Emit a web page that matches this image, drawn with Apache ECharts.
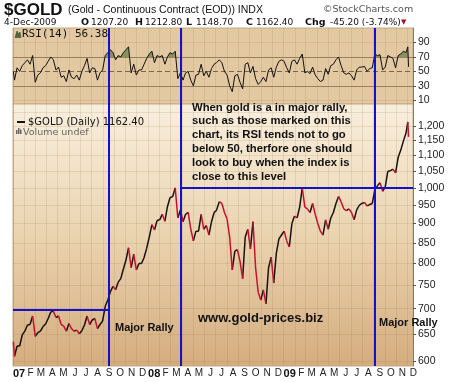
<!DOCTYPE html>
<html><head><meta charset="utf-8">
<script src="https://cdn.jsdelivr.net/npm/echarts@6/dist/echarts.min.js"></script>
<style>html,body{margin:0;padding:0;background:#fff}#c{width:450px;height:382px}</style>
</head><body><div id="c"></div>
<script>
// ---- data (weekly samples) ----
const dates = [
'2007-01-02','2007-01-05','2007-01-12','2007-01-19','2007-01-26','2007-02-02','2007-02-09','2007-02-16','2007-02-23',
'2007-03-02','2007-03-09','2007-03-16','2007-03-23','2007-03-30','2007-04-06','2007-04-13','2007-04-20','2007-04-27',
'2007-05-04','2007-05-11','2007-05-18','2007-05-25','2007-06-01','2007-06-08','2007-06-15','2007-06-22','2007-06-29',
'2007-07-06','2007-07-13','2007-07-20','2007-07-27','2007-08-03','2007-08-10','2007-08-17','2007-08-24','2007-08-31',
'2007-09-07','2007-09-14','2007-09-21','2007-09-28','2007-10-05','2007-10-12','2007-10-19','2007-10-26',
'2007-11-02','2007-11-09','2007-11-16','2007-11-23','2007-11-30','2007-12-07','2007-12-14','2007-12-21','2007-12-28',
'2008-01-04','2008-01-11','2008-01-18','2008-01-25','2008-02-01','2008-02-08','2008-02-15','2008-02-22','2008-02-29',
'2008-03-07','2008-03-14','2008-03-21','2008-03-28','2008-04-04','2008-04-11','2008-04-18','2008-04-25',
'2008-05-02','2008-05-09','2008-05-16','2008-05-23','2008-05-30','2008-06-06','2008-06-13','2008-06-20','2008-06-27',
'2008-07-03','2008-07-11','2008-07-18','2008-07-25','2008-08-01','2008-08-08','2008-08-15','2008-08-22','2008-08-29',
'2008-09-05','2008-09-12','2008-09-19','2008-09-26','2008-10-03','2008-10-10','2008-10-17','2008-10-24','2008-10-31',
'2008-11-07','2008-11-14','2008-11-21','2008-11-28','2008-12-05','2008-12-12','2008-12-19','2008-12-26',
'2009-01-02','2009-01-09','2009-01-16','2009-01-23','2009-01-30','2009-02-06','2009-02-13','2009-02-20','2009-02-27',
'2009-03-06','2009-03-13','2009-03-20','2009-03-27','2009-04-03','2009-04-10','2009-04-17','2009-04-24',
'2009-05-01','2009-05-08','2009-05-15','2009-05-22','2009-05-29','2009-06-05','2009-06-12','2009-06-19','2009-06-26',
'2009-07-03','2009-07-10','2009-07-17','2009-07-24','2009-07-31','2009-08-07','2009-08-14','2009-08-21','2009-08-28',
'2009-09-04','2009-09-11','2009-09-18','2009-09-25','2009-10-02','2009-10-09','2009-10-16','2009-10-23','2009-10-30',
'2009-11-06','2009-11-13','2009-11-20','2009-11-27','2009-12-02','2009-12-04'
];
const goldClose = [
635,608,627,627,648,655,667,668,685,
645,652,655,664,669,680,693,695,682,
685,668,665,655,670,660,655,657,650,
656,667,685,668,677,680,660,668,675,
705,718,736,748,740,757,765,787,
808,838,790,822,785,800,800,814,837,
865,897,883,908,910,925,906,946,972,
974,1000,915,937,905,925,930,885,
855,880,880,925,885,895,870,905,930,
935,960,955,930,912,865,785,830,833,
805,765,865,885,835,905,790,735,718,
740,710,790,815,755,825,860,870,
880,855,840,900,920,915,945,1000,945,
940,930,955,925,900,880,870,910,
885,915,930,955,975,960,940,935,940,
930,910,937,950,955,958,948,952,955,
995,1006,1015,990,1003,1050,1052,1057,1045,
1095,1118,1148,1175,1215,1162.4
];
const rsi14 = [
50,38,55,50,58,62,66,60,72,
35,45,48,55,58,64,70,66,52,
56,42,44,36,52,42,40,45,38,
50,58,68,48,55,54,38,48,52,
72,76,80,76,66,72,70,76,
80,84,48,60,45,52,52,60,68,
74,78,62,72,70,72,60,70,76,
74,78,40,48,38,48,50,38,
30,45,46,60,44,50,42,54,60,
62,66,62,50,45,30,22,44,46,
35,26,60,62,48,57,40,32,36,
42,36,52,55,42,56,64,66,
64,55,48,64,66,60,68,74,48,
50,47,56,45,40,36,38,54,
46,58,60,66,70,58,48,46,48,
44,38,52,56,56,57,50,54,55,
74,72,73,52,56,72,70,68,55,
72,74,78,76,84,56.38
];
const priceTicks = [600,650,700,750,800,850,900,950,1000,1050,1100,1150,1200];
const priceGridExtra = [1250];
const rsiTicks = [10,30,50,70,90];
const monthLetters = ['J','F','M','A','M','J','J','A','S','O','N','D'];
const rallyLines = ['2007-09-17','2008-03-29','2009-09-04'];
const rallySegments = [['2007-01-01','2007-09-17',698],['2008-03-29','2009-12-16',1000]];
const axisStart = '2007-01-01', axisEnd = '2009-12-16';
const noteLines = ['When gold is a in major rally,','such as those marked on this','chart, its RSI tends not to go','below 50, therfore one should','look to buy when the index is','close to this level'];

// ---- chart ----
const P = echarts.time.parse;
const tMin = +P(axisStart), tMax = +P(axisEnd);
const pairs = arr => dates.map((d,i)=>[+P(d), arr[i]]);
// split price path into rising (black) / falling (red) segments
function segs(up){
  const out = [];
  for (let i=1;i<dates.length;i++){
    const r = goldClose[i] >= goldClose[i-1];
    if (r === up){ out.push([+P(dates[i-1]), goldClose[i-1]], [+P(dates[i]), goldClose[i]], [+P(dates[i]), null]); }
  }
  return out;
}
const DAY = 86400000;
const chart = echarts.init(document.getElementById('c'));
const gridLine = 'rgba(150,110,60,0.16)';
const BLUE = '#1212cc';
const axisFont = {fontFamily:'Liberation Sans', fontSize:10.5, color:'#222'};

function timeAxis(grid, labels){
  return {type:'time', gridIndex:grid, min:tMin, max:tMax, minInterval:30*DAY, maxInterval:30*DAY,
    axisLine:{show:false}, axisTick:{show:false},
    splitLine:{show:true, lineStyle:{color:gridLine, width:1}},
    axisLabel: labels ? {show:true, interval:0, hideOverlap:false, showMaxLabel:false, align:'center', padding:[0,0,0,12], margin:2,
      fontFamily:'Liberation Sans', fontSize:10, color:'#222',
      formatter:function(v){const d=new Date(v);const m=d.getMonth(); if(m===0) return '{yr|'+String(d.getFullYear()).slice(2)+'}'; return monthLetters[m];},
      rich:{yr:{fontFamily:'Liberation Sans', fontWeight:'bold', fontSize:11, color:'#111'}}} : {show:false}
  };
}
const T = (text,x,y,font,fill) => ({type:'text', x:x, y:y, silent:true, z:100,
   style:{text:text, font:font, fill:fill||'#111', align:'left', verticalAlign:'middle'}});

const graphics = [
  T('$GOLD',4,10.5,'bold 17px "Liberation Sans"','#111'),
  T('(Gold - Continuous Contract (EOD)) INDX',68,10.5,'10.5px "Liberation Sans"','#111'),
  T('\u00A9StockCharts.com',323,10,'9.5px "DejaVu Sans"','#555'),
  T('4-Dec-2009',4,22.5,'9px "DejaVu Sans"','#111'),
  T('O',81,22.5,'bold 9.5px "DejaVu Sans"'),T('1207.20',91,22.5,'9px "DejaVu Sans"'),
  T('H',135,22.5,'bold 9.5px "DejaVu Sans"'),T('1212.80',145,22.5,'9px "DejaVu Sans"'),
  T('L',186,22.5,'bold 9.5px "DejaVu Sans"'),T('1148.70',196,22.5,'9px "DejaVu Sans"'),
  T('C',246,22.5,'bold 9.5px "DejaVu Sans"'),T('1162.40',256,22.5,'9px "DejaVu Sans"'),
  T('Chg',305,22.5,'bold 9.5px "DejaVu Sans"'),T('-45.20 (-3.74%)',330,22.5,'9px "DejaVu Sans"'),
  T('\u25BC',401,22,'7px "DejaVu Sans"','#a0102a'),
  {type:'polygon', silent:true, z:100, shape:{points:[[15,37.5],[17,31],[18.5,34],[20,32],[21,37.5]]}, style:{fill:'#4f6b35', stroke:'#333', lineWidth:0.5}},
  T('RSI(14) 56.38',22,34.5,'11px "DejaVu Sans Mono"','#111'),
  {type:'line', silent:true, z:100, shape:{x1:17,y1:122,x2:25,y2:122}, style:{stroke:'#111', lineWidth:2}},
  T('$GOLD (Daily) 1162.40',28,122,'10px "DejaVu Sans"','#111'),
  {type:'rect', silent:true, z:100, shape:{x:16,y:130,width:1.5,height:4}, style:{fill:'#666'}},
  {type:'rect', silent:true, z:100, shape:{x:18,y:128,width:1.5,height:6}, style:{fill:'#666'}},
  {type:'rect', silent:true, z:100, shape:{x:20,y:129.5,width:1.5,height:4.5}, style:{fill:'#666'}},
  T('Volume undef',23,132.5,'9.5px "DejaVu Sans"','#666'),
  T('Major Rally',115,328,'bold 11px "Liberation Sans"','#111'),
  T('www.gold-prices.biz',198,318.5,'bold 13px "Liberation Sans"','#111'),
  T('Major Rally',379,323,'bold 11px "Liberation Sans"','#111')
];
const noteY = [107.5,121.3,135.3,149.2,163,176.8];
noteLines.forEach((s,i)=>graphics.push(T(s,192,noteY[i],'bold 11.3px "Liberation Sans"','#111')));

const vLines = rallyLines.map(d=>({xAxis:+P(d)}));
const hSegs = rallySegments.map(s=>[{coord:[+P(s[0]), s[2]]},{coord:[+P(s[1]), s[2]]}]);
const noMark = {silent:true, symbol:['none','none'], label:{show:false}, animation:false};

const option = {
  animation:false,
  backgroundColor:'#ffffff',
  grid:[
    {left:13, top:28, width:400, height:76, show:true, backgroundColor:'#e3c9a1', borderColor:'#c4aa84', borderWidth:1},
    {left:13, top:104, width:400, height:262, show:true, borderColor:'#c4aa84', borderWidth:1,
     backgroundColor:{type:'linear',x:0,y:0,x2:0,y2:1,colorStops:[{offset:0,color:'#f9efde'},{offset:0.5,color:'#ead4b0'},{offset:1,color:'#d4ac7e'}]}}
  ],
  xAxis:[timeAxis(0,false), timeAxis(1,true)],
  yAxis:[
    {type:'value', gridIndex:0, position:'right', min:5, max:110,
     axisLine:{show:true, lineStyle:{color:'#8a7a66'}},
     axisTick:{show:true, customValues:rsiTicks, length:3, lineStyle:{color:'#555'}},
     axisLabel:Object.assign({customValues:rsiTicks, margin:5}, axisFont),
     splitLine:{show:false}},
    {type:'log', gridIndex:1, position:'right', min:591, max:1281,
     axisLine:{show:true, lineStyle:{color:'#8a7a66'}},
     axisTick:{show:true, customValues:priceTicks, length:3, lineStyle:{color:'#555'}},
     axisLabel:Object.assign({customValues:priceTicks, margin:5}, axisFont),
     splitLine:{show:false}, minorTick:{show:false}}
  ],
  series:[
    {name:'rsiFill', type:'line', xAxisIndex:0, yAxisIndex:0, data:pairs(rsi14), showSymbol:false, silent:true,
     lineStyle:{width:0}, areaStyle:{origin:70, color:'rgba(0,0,0,0)'}, z:2,
     markLine:Object.assign({z:1, data:[
         {yAxis:70, lineStyle:{color:'#9a7f5c', width:1, type:'solid'}},
         {yAxis:30, lineStyle:{color:'#9a7f5c', width:1, type:'solid'}},
         {yAxis:50, lineStyle:{color:'#7d6448', width:1, type:[5,3]}},
         {yAxis:90, lineStyle:{color:gridLine, width:1, type:'solid'}},
         {yAxis:10, lineStyle:{color:gridLine, width:1, type:'solid'}}
       ]}, noMark)},
    {name:'RSI(14)', type:'line', xAxisIndex:0, yAxisIndex:0, data:pairs(rsi14), showSymbol:false, silent:true,
     lineStyle:{color:'#111', width:1}, z:3,
     markLine:Object.assign({lineStyle:{color:BLUE, width:2, type:'solid'}, data:vLines}, noMark)},
    {name:'grid', type:'line', xAxisIndex:1, yAxisIndex:1, data:pairs(goldClose), showSymbol:false, silent:true,
     lineStyle:{opacity:0}, z:1,
     markLine:Object.assign({z:1, lineStyle:{color:gridLine, width:1, type:'solid'},
       data:priceTicks.concat(priceGridExtra).map(v=>({yAxis:v}))}, noMark)},
    {name:'$GOLD up', type:'line', xAxisIndex:1, yAxisIndex:1, data:segs(true), showSymbol:false, silent:true,
     connectNulls:false, lineStyle:{color:'#1a1010', width:1.5}, z:3},
    {name:'$GOLD down', type:'line', xAxisIndex:1, yAxisIndex:1, data:segs(false), showSymbol:false, silent:true,
     connectNulls:false, lineStyle:{color:'#c8102e', width:1.5}, z:3,
     markLine:Object.assign({lineStyle:{color:BLUE, width:2, type:'solid'}, data:vLines.concat(hSegs)}, noMark)}
  ],
  graphic:graphics
};
chart.setOption(option);
// green fill above the 70 line: gradient stop at the pixel row of RSI 70 (from the axis scale)
const y70 = chart.convertToPixel({xAxisIndex:0, yAxisIndex:0}, [tMin, 70])[1];
const H = 382, f = y70 / H;
chart.setOption({series:[{name:'rsiFill', areaStyle:{origin:70, color:{type:'linear', x:0, y:0, x2:0, y2:H, global:true,
  colorStops:[{offset:0,color:'#5c7c44'},{offset:f,color:'#5c7c44'},{offset:f,color:'rgba(0,0,0,0)'},{offset:1,color:'rgba(0,0,0,0)'}]}}}]});
</script>
</body></html>
